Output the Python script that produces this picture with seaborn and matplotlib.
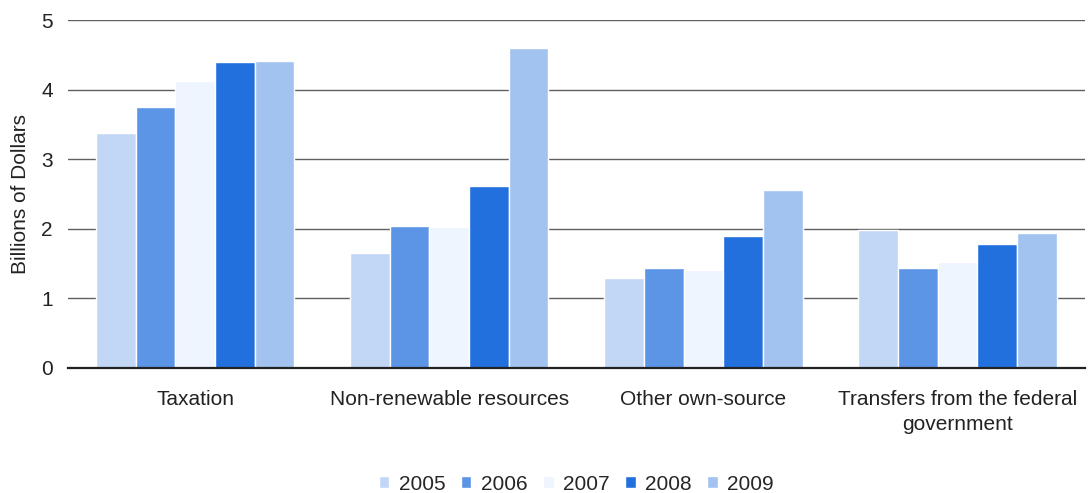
import matplotlib
matplotlib.use("Agg")
import matplotlib.pyplot as plt
import seaborn as sns
import pandas as pd

categories = ["Taxation", "Non-renewable resources", "Other own-source",
              "Transfers from the federal\ngovernment"]
years = ["2005", "2006", "2007", "2008", "2009"]
v2005 = [3.38, 1.65, 1.29, 1.98]
v2006 = [3.75, 2.04, 1.44, 1.44]
v2007 = [4.12, 2.03, 1.41, 1.52]
v2008 = [4.40, 2.61, 1.90, 1.78]
v2009 = [4.41, 4.60, 2.56, 1.94]
colors = ["#c2d7f5", "#5c94e6", "#eef5fe", "#2170de", "#a2c2f0"]

rows = []
for yr, vals in zip(years, [v2005, v2006, v2007, v2008, v2009]):
    for c, v in zip(categories, vals):
        rows.append({"Category": c, "Year": yr, "Value": v})
df = pd.DataFrame(rows)

sns.set_style("white")
plt.rcParams["font.family"] = ["Liberation Sans", "DejaVu Sans"]

FS = 15
fig = plt.figure(figsize=(10.89, 4.93), dpi=100)
ax = fig.add_axes([0.0624, 0.254, 0.9336, 0.705])

sns.barplot(data=df, x="Category", y="Value", hue="Year", order=categories,
            hue_order=years, palette=colors, width=0.78, edgecolor="white",
            linewidth=1.0, saturation=1, ax=ax, legend=True)

ax.set_ylim(0, 5)
ax.set_xlim(-0.5, 3.5)
ax.set_yticks([0, 1, 2, 3, 4, 5])
ax.yaxis.grid(True, color="#606060", linewidth=1.0)
ax.set_axisbelow(True)
for s in ["top", "right", "left"]:
    ax.spines[s].set_visible(False)
ax.spines["bottom"].set_color("#222222")
ax.spines["bottom"].set_linewidth(1.6)
ax.tick_params(axis="both", length=0, labelsize=FS, colors="#222222")
ax.tick_params(axis="y", pad=11)
ax.tick_params(axis="x", pad=16)
for lbl in ax.get_xticklabels():
    lbl.set_linespacing(1.4)
ax.set_xlabel("")
ax.set_ylabel("Billions of Dollars", fontsize=FS, color="#222222", labelpad=8)

handles, labels = ax.get_legend_handles_labels()
ax.legend(handles, labels, loc="center", bbox_to_anchor=(0.5, -0.335),
          ncol=5, frameon=False, fontsize=FS, handlelength=0.5,
          handleheight=0.5, handletextpad=0.45, columnspacing=0.75)

fig.savefig("out.png", dpi=100)
